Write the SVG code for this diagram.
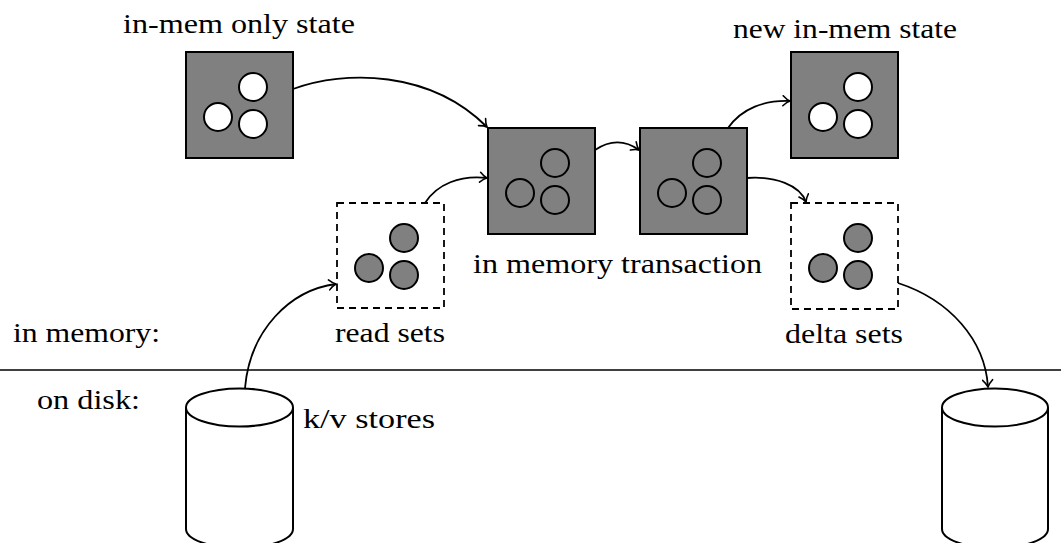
<svg xmlns="http://www.w3.org/2000/svg" width="1061" height="543" viewBox="0 0 1061 543">
  <style>
    .lbl { font-family: "Liberation Serif", "Times New Roman", serif; font-size: 27px; fill: #000; }
    .box { fill: #808080; stroke: #000; stroke-width: 2; }
    .set { fill: none; stroke: #000; stroke-width: 1.8; stroke-dasharray: 7 5; }
    .dot-w { fill: #fff; stroke: #000; stroke-width: 2; }
    .dot-o { fill: none; stroke: #000; stroke-width: 2; }
    .dot-g { fill: #808080; stroke: #000; stroke-width: 2; }
    .edge { fill: none; stroke: #000; stroke-width: 1.8; marker-end: url(#arrow); }
    .cyl { fill: #fff; stroke: #000; stroke-width: 2; }
  </style>
  <defs>
    <marker id="arrow" viewBox="-10 -6 12 12" markerWidth="12" markerHeight="12" refX="0" refY="0" orient="auto" markerUnits="userSpaceOnUse">
      <path d="M-7,-5 Q-3,-1 0,0 Q-3,1 -7,5" fill="none" stroke="#000" stroke-width="1.6" stroke-linecap="round"/>
    </marker>
    <!-- three-dot cluster used inside every state box -->
    <g id="trio">
      <circle cx="67" cy="35" r="14"/>
      <circle cx="32" cy="65" r="14"/>
      <circle cx="67" cy="72" r="14"/>
    </g>
  </defs>

  <rect width="1061" height="543" fill="#fff"/>

  <!-- memory / disk divider -->
  <g id="divider">
    <line x1="0" y1="370" x2="1061" y2="370" stroke="#000" stroke-width="1.6"/>
    <text class="lbl" x="13" y="342" textLength="147" lengthAdjust="spacingAndGlyphs">in memory:</text>
    <text class="lbl" x="37" y="409" textLength="103" lengthAdjust="spacingAndGlyphs">on disk:</text>
  </g>

  <g id="inmem-only-state">
    <rect class="box" x="186" y="52" width="107" height="106"/>
    <use href="#trio" x="186" y="52" class="dot-w"/>
    <text class="lbl" x="123" y="33" textLength="232" lengthAdjust="spacingAndGlyphs">in-mem only state</text>
  </g>

  <g id="txn-a">
    <rect class="box" x="488" y="128" width="107" height="106"/>
    <use href="#trio" x="488" y="128" class="dot-o"/>
  </g>

  <g id="txn-b">
    <rect class="box" x="640" y="128" width="107" height="106"/>
    <use href="#trio" x="640" y="128" class="dot-o"/>
  </g>

  <text class="lbl" x="473" y="273" textLength="289" lengthAdjust="spacingAndGlyphs">in memory transaction</text>

  <g id="new-inmem-state">
    <rect class="box" x="791" y="52" width="107" height="106"/>
    <use href="#trio" x="791" y="52" class="dot-w"/>
    <text class="lbl" x="733" y="38" textLength="224" lengthAdjust="spacingAndGlyphs">new in-mem state</text>
  </g>

  <g id="read-sets">
    <rect class="set" x="337" y="203" width="107" height="105"/>
    <use href="#trio" x="337" y="203" class="dot-g"/>
    <text class="lbl" x="335" y="342" textLength="110" lengthAdjust="spacingAndGlyphs">read sets</text>
  </g>

  <g id="delta-sets">
    <rect class="set" x="791" y="203" width="107" height="106"/>
    <use href="#trio" x="791" y="203" class="dot-g"/>
    <text class="lbl" x="785" y="343" textLength="118" lengthAdjust="spacingAndGlyphs">delta sets</text>
  </g>

  <g id="kv-store-in">
    <path class="cyl" d="M186,407.5 V529 A53.5,19 0 0 0 293,529 V407.5"/>
    <ellipse class="cyl" cx="239.5" cy="407.5" rx="53.5" ry="19"/>
    <text class="lbl" x="303" y="428" textLength="132" lengthAdjust="spacingAndGlyphs">k/v stores</text>
  </g>

  <g id="kv-store-out">
    <path class="cyl" d="M942,407.5 V529 A53,19 0 0 0 1048,529 V407.5"/>
    <ellipse class="cyl" cx="995" cy="407.5" rx="53" ry="19"/>
  </g>

  <g id="connectors">
    <path class="edge" d="M293,89 C345,70 430,70 487,127"/>
    <path class="edge" d="M425,203 C437,184 460,175 487,178"/>
    <path class="edge" d="M595,150 C610,140 625,140 639,150"/>
    <path class="edge" d="M728,128 C742,108 765,100 790,101"/>
    <path class="edge" d="M747,178 C775,176 800,185 806,202"/>
    <path class="edge" d="M245,388 C250,330 290,290 336,284"/>
    <path class="edge" d="M898,283 C950,300 985,340 988,387"/>
  </g>
</svg>
